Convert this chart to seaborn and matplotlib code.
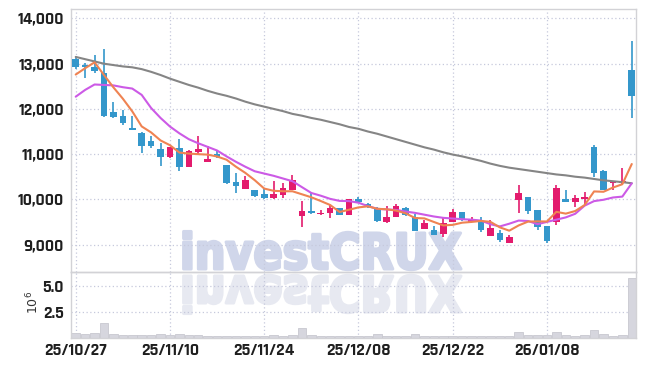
import numpy as np
import pandas as pd
import matplotlib
matplotlib.use("Agg")
import matplotlib.pyplot as plt
import seaborn as sns
from matplotlib.textpath import TextPath
from matplotlib.font_manager import FontProperties
from matplotlib.patches import PathPatch
from matplotlib.path import Path
from matplotlib.transforms import Affine2D
from matplotlib.ticker import FuncFormatter

# ---------------- data ----------------
holidays = ["2025-12-25", "2025-12-31", "2026-01-01"]
dates = [d for d in pd.bdate_range("2025-10-27", "2026-01-21")
         if d.strftime("%Y-%m-%d") not in holidays]

opens = [13104, 12950, 12933, 12800, 11938, 11843, 11570, 11460, 11296, 11113,
         10942, 11128, 10708, 11053, 10832, 11002, 10759, 10389, 10228, 10206,
         10117, 10022, 10095, 10206, 9631, 9748, 9668, 9704, 9801, 9653,
         10007, 9896, 9801, 9498, 9615, 9801, 9602, 9343, 9321, 9226,
         9504, 9712, 9504, 9520, 9188, 9261, 9027, 9985, 10058, 9763,
         9409, 9504, 10007, 9947, 10007, 11163, 10633, 10354, 10367, 12860]
highs = [13155, 13010, 13192, 13325, 12160, 11975, 11843, 11495, 11400, 11239,
         11150, 11327, 11080, 11400, 11179, 11090, 10770, 10588, 10522, 10206,
         10221, 10411, 10354, 10537, 9969, 10168, 9763, 9874, 9801, 10000,
         10058, 9910, 9836, 9852, 9896, 9836, 9668, 9542, 9409, 9580,
         9779, 9712, 9615, 9615, 9542, 9321, 9210, 10316, 10058, 9763,
         9409, 10316, 10206, 10095, 10155, 11201, 10650, 10411, 10686, 13508]
lows = [12880, 12680, 12787, 11828, 11800, 11643, 11533, 11031, 11128, 10737,
        10907, 10633, 10708, 10980, 10832, 10920, 10332, 10133, 10228, 10058,
        10000, 10000, 10035, 10206, 9394, 9668, 9660, 9580, 9653, 9653,
        9920, 9810, 9504, 9469, 9615, 9640, 9290, 9343, 9200, 9173,
        9504, 9530, 9490, 9283, 9188, 9062, 9027, 9704, 9675, 9321,
        9040, 9431, 9947, 9836, 9896, 10500, 10206, 10206, 10316, 11792]
closes = [12934, 12935, 12845, 11843, 11827, 11681, 11533, 11179, 11179, 10942,
          11150, 10721, 11068, 11113, 10891, 10942, 10367, 10294, 10427, 10080,
          10022, 10117, 10243, 10427, 9748, 9690, 9704, 9801, 9653, 10000,
          9947, 9823, 9527, 9602, 9852, 9653, 9299, 9482, 9210, 9469,
          9712, 9542, 9564, 9321, 9372, 9100, 9173, 10146, 9748, 9394,
          9084, 10243, 9947, 10035, 10058, 10588, 10206, 10411, 10405, 12292]
volumes = [0.42, 0.30, 0.40, 1.45, 0.30, 0.28, 0.27, 0.25, 0.24, 0.30,
           0.22, 0.30, 0.22, 0.20, 0.18, 0.17, 0.15, 0.14, 0.15, 0.14,
           0.13, 0.20, 0.16, 0.22, 0.90, 0.28, 0.18, 0.15, 0.12, 0.14,
           0.15, 0.14, 0.30, 0.18, 0.14, 0.15, 0.30, 0.16, 0.15, 0.14,
           0.13, 0.12, 0.12, 0.14, 0.15, 0.14, 0.18, 0.58, 0.28, 0.20,
           0.22, 0.55, 0.28, 0.18, 0.20, 0.68, 0.30, 0.18, 0.20, 5.80]
ma5_head = [12760, 12900, 13030, 12750]
ma20 = [12270, 12420, 12540, 12530, 12520, 12480, 12450, 12310, 12020, 11800,
        11610, 11460, 11330, 11240, 11160, 11080, 10950, 10830, 10720, 10620,
        10570, 10520, 10460, 10400, 10270, 10140, 10080, 10010, 9965, 9960,
        9925, 9850, 9790, 9775, 9765, 9730, 9700, 9660, 9620, 9590,
        9575, 9560, 9550, 9530, 9450, 9400, 9460, 9530, 9520, 9450,
        9500, 9550, 9600, 9680, 9860, 9960, 9990, 10040, 10060, 10354]
ma60 = [13150, 13100, 13050, 13000, 12970, 12940, 12920, 12880, 12820, 12750,
        12670, 12600, 12530, 12470, 12400, 12340, 12290, 12230, 12160, 12100,
        12050, 12000, 11950, 11890, 11850, 11800, 11760, 11710, 11660, 11600,
        11560, 11500, 11450, 11390, 11330, 11270, 11210, 11150, 11100, 11040,
        10990, 10950, 10900, 10850, 10790, 10740, 10700, 10670, 10640, 10610,
        10580, 10550, 10530, 10500, 10480, 10450, 10420, 10400, 10380, 10355]
tick_labels = ["25/10/27", "25/11/10", "25/11/24", "25/12/08", "25/12/22", "26/01/08"]
price_ticks = [9000, 10000, 11000, 12000, 13000, 14000]
vol_ticks = [2.5, 5.0]

df = pd.DataFrame({"date": dates, "open": opens, "high": highs, "low": lows,
                   "close": closes, "vol": volumes, "ma20": ma20, "ma60": ma60})
df["x"] = np.arange(len(df))
ma5 = df["close"].rolling(5).mean()
ma5.iloc[:len(ma5_head)] = ma5_head
df["ma5"] = ma5
df["label"] = df["date"].dt.strftime("%y/%m/%d")

# ---------------- style ----------------
UP = "#E31B6D"
DOWN = "#3497CB"
GRID = "#c6c9dc"
SPINE = "#d2d2d6"
TXT = "#1e1e1e"
TICKFONT = ["Rajdhani", "Barlow Semi Condensed", "DejaVu Sans"]

sns.set_theme(style="white")

W, H = 645, 366
fig = plt.figure(figsize=(W / 100, H / 100), dpi=100, facecolor="white")
L, R, T, M, B = 71, 636, 9, 272, 337.5

# ---------------- watermark ----------------
with plt.rc_context({"font.family": ["DejaVu Sans"]}):
    tp = TextPath((0, 0), "investCRUX", size=1,
                  prop=FontProperties(family=["DejaVu Sans"], weight="bold"))
pix = Affine2D().scale(1 / W, -1 / H).translate(0, 1) + fig.transFigure
v = tp.vertices
x0, x1 = v[:, 0].min(), v[:, 0].max()
sx = (461 - 180) / (x1 - x0)
sy = 36 / 0.729
vx = 180 + (v[:, 0] - x0) * sx
main = Path(np.column_stack([vx, 269 - v[:, 1] * sy]), tp.codes)
refl = Path(np.column_stack([vx, 276 + v[:, 1] * sy]), tp.codes)
fig.add_artist(PathPatch(main, transform=pix, facecolor="#d0d6ea", edgecolor="#d0d6ea",
                         linewidth=2.2, joinstyle="round", zorder=-2))
fig.add_artist(PathPatch(refl, transform=pix, facecolor="#e7e9f1", edgecolor="#e7e9f1",
                         linewidth=2.2, joinstyle="round", zorder=-2))

plt.rcParams["font.family"] = TICKFONT

ax = fig.add_axes([L / W, 1 - M / H, (R - L) / W, (M - T) / H])
axv = fig.add_axes([L / W, 1 - B / H, (R - L) / W, (B - M) / H])
for a in (ax, axv):
    a.set_facecolor("none")
    for s in a.spines.values():
        s.set_color(SPINE)
        s.set_linewidth(1.0)

# ---------------- candles ----------------
up = df["close"] >= df["open"]
cols = np.where(up, UP, DOWN)
ax.vlines(df["x"], df["low"], df["high"], colors=cols, lw=1.2, zorder=3)
body = (df["close"] - df["open"]).abs().clip(lower=40)
ax.bar(df["x"], body, bottom=np.minimum(df["open"], df["close"]), width=0.7,
       color=cols, edgecolor="none", zorder=3)

sns.lineplot(data=df, x="x", y="ma60", ax=ax, color="#858585", lw=1.5, zorder=4)
sns.lineplot(data=df, x="x", y="ma20", ax=ax, color="#cc5ae6", lw=1.5, zorder=4)
sns.lineplot(data=df, x="x", y="ma5", ax=ax, color="#ef8352", lw=1.5, zorder=5)

# ---------------- volume ----------------
sns.barplot(data=df, x="x", y="vol", ax=axv, native_scale=True, color="#d6d6de",
            saturation=1, width=0.9, errorbar=None, edgecolor="#c8c8d0", linewidth=0.6,
            zorder=2)

# ---------------- axes ----------------
tick_idx = [int(df.index[df["label"] == t][0]) for t in tick_labels]
for a in (ax, axv):
    a.set_xlim(-0.5, 59.45)
    a.set_xticks(tick_idx)
    a.grid(True, axis="both", color=GRID, linestyle=(0, (1, 2)), linewidth=0.9)
    a.set_xlabel("")
    a.set_ylabel("")
ax.set_ylim(8392, 14210)
ax.set_yticks(price_ticks)
ax.yaxis.set_major_formatter(FuncFormatter(lambda y, p: f"{y:,.0f}"))
ax.tick_params(axis="x", labelbottom=False, length=0)
ax.tick_params(axis="y", length=0, pad=5, labelsize=12.5, labelcolor=TXT)

axv.set_ylim(0, 6.35)
axv.set_yticks(vol_ticks)
axv.set_yticklabels([f"{t:.1f}" for t in vol_ticks])
axv.set_xticklabels(tick_labels)
axv.tick_params(axis="x", length=0, pad=4, labelsize=12.5, labelcolor=TXT)
axv.tick_params(axis="y", length=0, pad=5, labelsize=12.5, labelcolor=TXT)
for lab in ax.get_yticklabels() + axv.get_yticklabels() + axv.get_xticklabels():
    lab.set_fontweight("bold")

fig.text(33 / W, 1 - 302 / H, "$10^{6}$", rotation=90, ha="center", va="center",
         fontsize=9, color="#333333", family="DejaVu Sans")

fig.savefig("out.png", dpi=100, facecolor="white")
